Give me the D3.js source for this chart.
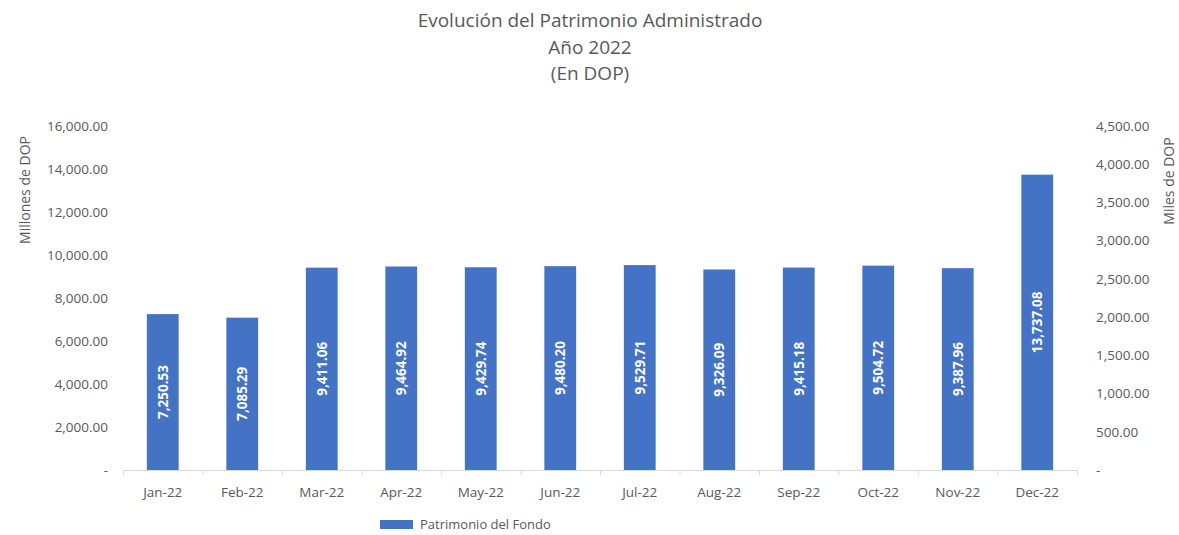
<!DOCTYPE html>
<html>
<head>
<meta charset="utf-8">
<script src="https://cdn.jsdelivr.net/npm/d3@7"></script>
<style>
  body { margin: 0; background: #fff; }
  text { font-family: "Open Sans", "Segoe UI", sans-serif; }
</style>
</head>
<body>
<div id="canvas"></div>
<script>
const months = ["Jan-22", "Feb-22", "Mar-22", "Apr-22", "May-22", "Jun-22",
  "Jul-22", "Aug-22", "Sep-22", "Oct-22", "Nov-22", "Dec-22"];
const patrimonio = [7250.53, 7085.29, 9411.06, 9464.92, 9429.74, 9480.20,
  9529.71, 9326.09, 9415.18, 9504.72, 9387.96, 13737.08];
const leftTicks = [0, 2000, 4000, 6000, 8000, 10000, 12000, 14000, 16000];
const rightTicks = [0, 500, 1000, 1500, 2000, 2500, 3000, 3500, 4000, 4500];
const titleLines = ["Evolución del Patrimonio Administrado", "Año 2022", "(En DOP)"];

const W = 1179, H = 535;
const margin = { top: 126, right: 102, bottom: 65, left: 123 };
const width = W - margin.left - margin.right;
const height = H - margin.top - margin.bottom;
const grey = "#595959";
const barColor = "#4472c4";

const svg = d3.select("#canvas").append("svg")
  .attr("width", W).attr("height", H);

// title
svg.append("g").selectAll("text").data(titleLines).join("text")
  .attr("x", 590).attr("y", (d, i) => 27 + i * 26.5)
  .attr("text-anchor", "middle")
  .attr("font-size", 19).attr("fill", grey)
  .text((d) => d);

const g = svg.append("g")
  .attr("transform", "translate(" + margin.left + "," + margin.top + ")");

const x = d3.scaleBand().domain(months).range([0, width]).paddingInner(0.6).paddingOuter(0.3);
const y = d3.scaleLinear().domain([0, 16000]).range([height, 0]);
const y2 = d3.scaleLinear().domain([0, 4500]).range([height, 0]);

const fmt = (v) => v === 0 ? "-" : d3.format(",.2f")(v);

// left axis
const yAxis = g.append("g").call(d3.axisLeft(y).tickValues(leftTicks).tickFormat(fmt).tickSize(0).tickPadding(15));
yAxis.select(".domain").remove();
yAxis.selectAll("text").attr("font-size", 13.5).attr("fill", grey)
  .style("font-family", "'Open Sans', sans-serif");

// right axis
const y2Axis = g.append("g").attr("transform", "translate(" + width + ",0)")
  .call(d3.axisRight(y2).tickValues(rightTicks).tickFormat(fmt).tickSize(0).tickPadding(19));
y2Axis.select(".domain").remove();
y2Axis.selectAll("text").attr("font-size", 13.5).attr("fill", grey)
  .style("font-family", "'Open Sans', sans-serif");

// x axis line with ticks at category boundaries
const step = width / months.length;
g.append("line").attr("x1", 0).attr("x2", width).attr("y1", height + 0.5).attr("y2", height + 0.5)
  .attr("stroke", "#d9d9d9").attr("stroke-width", 1);
g.append("g").selectAll("line").data(d3.range(months.length + 1)).join("line")
  .attr("x1", (d) => d * step + 0.5).attr("x2", (d) => d * step + 0.5)
  .attr("y1", height).attr("y2", height + 5)
  .attr("stroke", "#d9d9d9");

g.append("g").selectAll("text").data(months).join("text")
  .attr("x", (d) => x(d) + x.bandwidth() / 2)
  .attr("y", height + 27)
  .attr("text-anchor", "middle")
  .attr("font-size", 13.5).attr("fill", grey)
  .text((d) => d);

// bars
g.append("g").selectAll("rect").data(patrimonio).join("rect")
  .attr("x", (d, i) => x(months[i]))
  .attr("y", (d) => y(d))
  .attr("width", x.bandwidth())
  .attr("height", (d) => height - y(d))
  .attr("fill", barColor);

// value labels
g.append("g").selectAll("text").data(patrimonio).join("text")
  .attr("transform", (d, i) => "translate(" + (x(months[i]) + x.bandwidth() / 2 + 5) + "," + ((y(d) + height) / 2) + ") rotate(-90)")
  .attr("text-anchor", "middle")
  .attr("font-size", 13.5).attr("font-weight", "bold").attr("fill", "#fff")
  .text((d) => d3.format(",.2f")(d));

// axis titles
svg.append("text")
  .attr("transform", "translate(30,190) rotate(-90)")
  .attr("text-anchor", "middle").attr("font-size", 14).attr("fill", grey)
  .text("Millones de DOP");
svg.append("text")
  .attr("transform", "translate(1174,181) rotate(-90)")
  .attr("text-anchor", "middle").attr("font-size", 14).attr("fill", grey)
  .text("Miles de DOP");

// legend
const legend = svg.append("g").attr("transform", "translate(380,520)");
legend.append("rect").attr("width", 33).attr("height", 9).attr("fill", barColor);
legend.append("text").attr("x", 40).attr("y", 9).attr("font-size", 13).attr("fill", grey)
  .text("Patrimonio del Fondo");
</script>
</body>
</html>
